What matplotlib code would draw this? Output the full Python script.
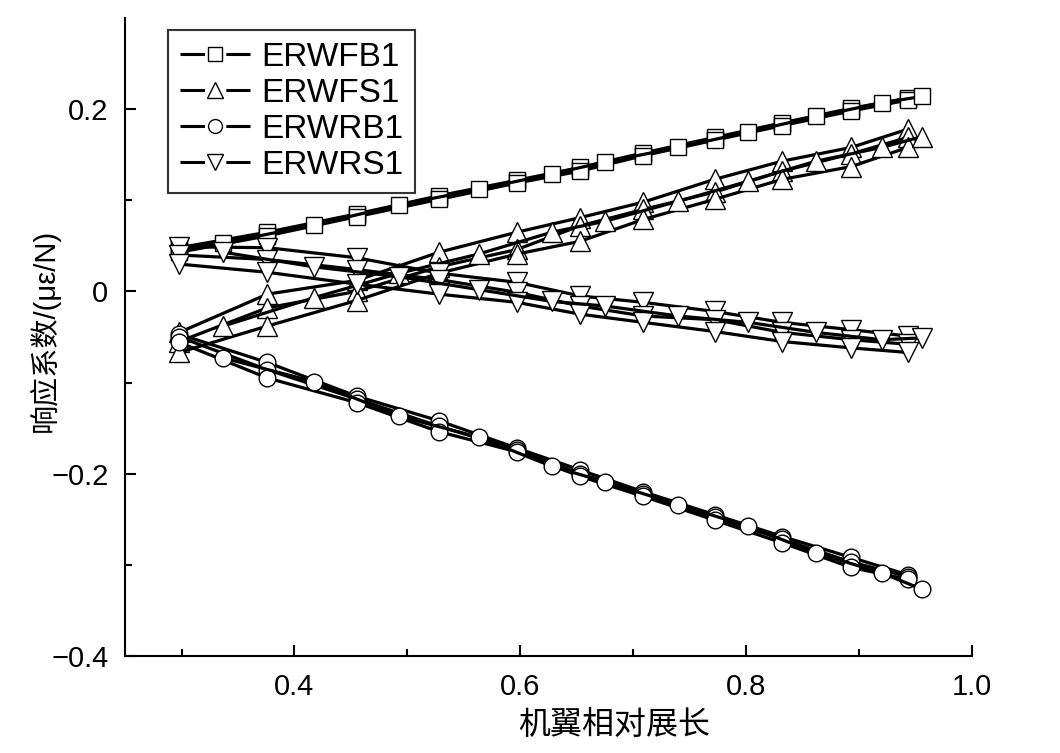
import matplotlib
matplotlib.use('Agg')
import matplotlib.pyplot as plt
from matplotlib.lines import Line2D

plt.rcParams['font.family'] = ['Liberation Sans', 'Noto Sans CJK SC', 'DejaVu Sans']

# 两组测点位置（机翼相对展长）
xa = [0.298, 0.376, 0.455, 0.528, 0.597, 0.653, 0.709, 0.772, 0.832, 0.893, 0.943]
xb = [0.337, 0.417, 0.493, 0.563, 0.628, 0.675, 0.740, 0.802, 0.862, 0.920, 0.956]

# ERWFB1
fb_a1 = [0.046, 0.063, 0.084, 0.103, 0.121, 0.134, 0.151, 0.167, 0.184, 0.200, 0.211]
fb_a2 = [0.048, 0.065, 0.085, 0.105, 0.122, 0.136, 0.152, 0.169, 0.185, 0.201, 0.212]
fb_a3 = [0.043, 0.061, 0.082, 0.101, 0.119, 0.132, 0.149, 0.166, 0.182, 0.198, 0.210]
fb_b = [0.053, 0.073, 0.095, 0.112, 0.129, 0.142, 0.158, 0.175, 0.192, 0.207, 0.214]

# ERWFS1
fs_a1 = [-0.045, -0.003, 0.012, 0.043, 0.065, 0.081, 0.098, 0.123, 0.143, 0.158, 0.178]
fs_a2 = [-0.055, -0.018, 0.000, 0.027, 0.046, 0.072, 0.090, 0.109, 0.132, 0.151, 0.169]
fs_a3 = [-0.067, -0.038, -0.010, 0.020, 0.041, 0.055, 0.079, 0.101, 0.123, 0.137, 0.158]
fs_b = [-0.038, -0.007, 0.020, 0.041, 0.065, 0.077, 0.099, 0.121, 0.143, 0.158, 0.170]

# ERWRB1
rb_a1 = [-0.047, -0.078, -0.115, -0.142, -0.172, -0.196, -0.220, -0.245, -0.269, -0.292, -0.311]
rb_a2 = [-0.050, -0.086, -0.118, -0.148, -0.174, -0.200, -0.222, -0.248, -0.272, -0.297, -0.313]
rb_a3 = [-0.056, -0.095, -0.122, -0.154, -0.176, -0.203, -0.225, -0.251, -0.276, -0.303, -0.316]
rb_b = [-0.073, -0.099, -0.137, -0.160, -0.192, -0.209, -0.234, -0.258, -0.287, -0.309, -0.327]

# ERWRS1
rs_a1 = [0.049, 0.048, 0.037, 0.020, 0.010, -0.005, -0.012, -0.022, -0.034, -0.042, -0.049]
rs_a2 = [0.040, 0.035, 0.024, 0.013, -0.001, -0.016, -0.027, -0.031, -0.045, -0.053, -0.058]
rs_a3 = [0.030, 0.021, 0.008, -0.003, -0.012, -0.025, -0.034, -0.044, -0.055, -0.062, -0.067]
rs_b = [0.043, 0.027, 0.016, 0.002, -0.011, -0.016, -0.027, -0.034, -0.045, -0.053, -0.051]

series = [
    ('ERWFB1', 's', 11, 9.5, [fb_a1, fb_a2, fb_a3], fb_b),
    ('ERWFS1', '^', 14, 11, [fs_a1, fs_a2, fs_a3], fs_b),
    ('ERWRB1', 'o', 12, 10, [rb_a1, rb_a2, rb_a3], rb_b),
    ('ERWRS1', 'v', 14, 11, [rs_a1, rs_a2, rs_a3], rs_b),
]

fig = plt.figure(figsize=(10.6, 7.53), dpi=100)
ax = fig.add_axes([0.118, 0.129, 0.799, 0.847])

handles = []
for name, mk, ms, lms, ys_a, y_b in series:
    for y in ys_a:
        ax.plot(xa, y, color='black', lw=2.3, marker=mk, ms=ms,
                mfc='white', mec='black', mew=1.0)
    ax.plot(xb, y_b, color='black', lw=2.3, marker=mk, ms=ms,
            mfc='white', mec='black', mew=1.0)
    # 图例: 线段-标记-线段，中间留空
    handles.append(Line2D([], [], color='black', lw=2.2, ls=(0, (8.0, 7.0, 8.0, 60)),
                          marker=mk, ms=lms, mfc='white', mec='black', mew=1.0,
                          label=name))

ax.set_xlim(0.25, 1.0)
ax.set_ylim(-0.4, 0.3)
ax.set_xticks([0.4, 0.6, 0.8, 1.0])
ax.set_xticklabels(['0.4', '0.6', '0.8', '1.0'])
ax.set_xticks([0.3, 0.5, 0.7, 0.9], minor=True)
ax.set_yticks([-0.4, -0.2, 0, 0.2])
ax.set_yticklabels(['\u22120.4', '\u22120.2', '0', '0.2'])
ax.set_yticks([-0.3, -0.1, 0.1], minor=True)
ax.tick_params(which='major', direction='in', length=8, width=1.5, labelsize=21, pad=12)
ax.tick_params(which='minor', direction='in', length=5, width=1.5)
for s in ['top', 'right']:
    ax.spines[s].set_visible(False)
for s in ['left', 'bottom']:
    ax.spines[s].set_linewidth(1.5)

ax.set_xlabel('机翼相对展长', fontsize=23)
ax.xaxis.set_label_coords(0.578, -0.086)
ax.set_ylabel('响应系数/(με/N)', fontsize=21)
ax.yaxis.set_label_coords(-0.077, 0.51)

leg = ax.legend(handles=handles, loc='upper left', bbox_to_anchor=(0.051, 0.981),
                borderaxespad=0, fontsize=24, frameon=True, fancybox=False,
                handlelength=2.1, handletextpad=0.35, labelspacing=0.15,
                borderpad=0.35)
leg.get_frame().set_edgecolor('black')
leg.get_frame().set_linewidth(1.5)

fig.savefig('out.png', dpi=100)
